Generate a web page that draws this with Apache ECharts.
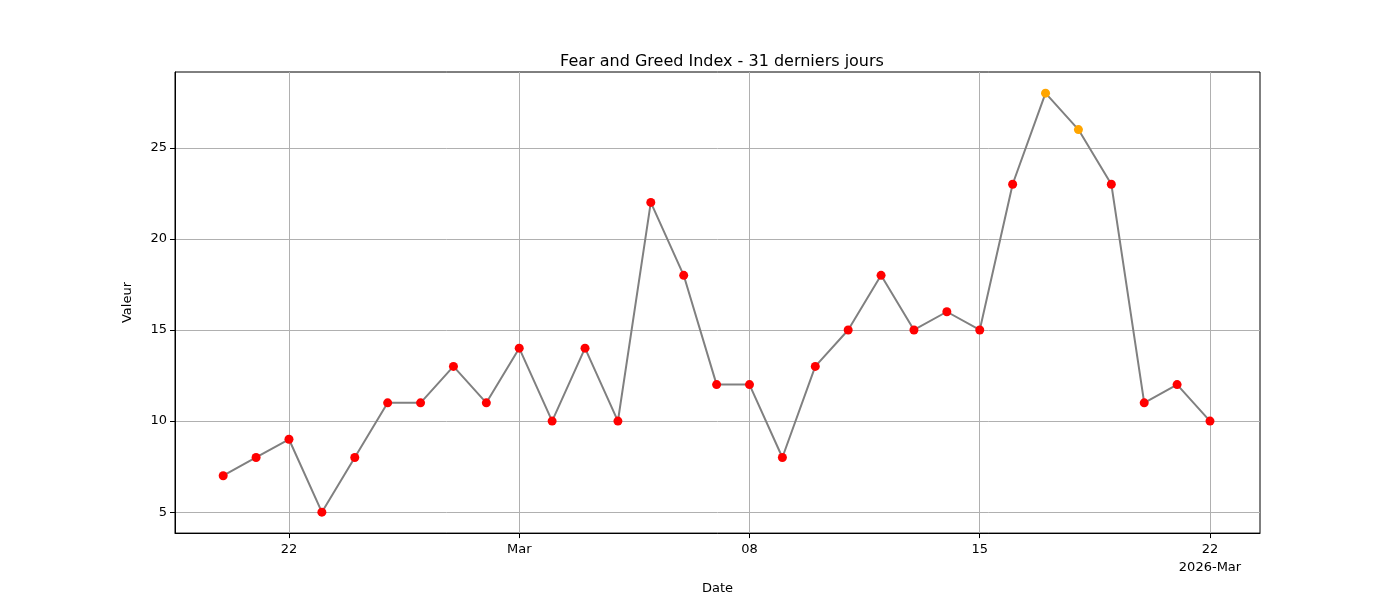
<!DOCTYPE html>
<html><head><meta charset="utf-8">
<script src="https://cdn.jsdelivr.net/npm/echarts@6/dist/echarts.min.js"></script>
<style>html,body{margin:0;padding:0;background:#fff}#c{width:1400px;height:600px}</style>
</head><body><div id="c"></div>
<script>
const dates = ['02-20','02-21','02-22','02-23','02-24','02-25','02-26','02-27','02-28','03-01','03-02','03-03','03-04','03-05','03-06','03-07','03-08','03-09','03-10','03-11','03-12','03-13','03-14','03-15','03-16','03-17','03-18','03-19','03-20','03-21','03-22'];
const values = [7,8,9,5,8,11,11,13,11,14,10,14,10,22,18,12,12,8,13,15,18,15,16,15,23,28,26,23,11,12,10];
const tickIdx = [2,9,16,23,30];
const tickLabels = ['22','Mar','08','15','22\n2026-Mar'];
const yTicks = [5,10,15,20,25];
const font = 'DejaVu Sans';
const pts = values.map((v,i)=>[i,v]);
const chart = echarts.init(document.getElementById('c'));
chart.setOption({
  animation:false,
  title:{text:'Fear and Greed Index - 31 derniers jours',left:717,top:49,textAlign:'center',textStyle:{fontFamily:font,fontSize:16,fontWeight:'normal',color:'#000'}},
  grid:{left:175,right:140,top:72,bottom:66,show:true,borderColor:'#000',borderWidth:1},
  xAxis:{type:'value',min:-1.465,max:31.52,name:'Date',nameLocation:'middle',nameGap:35,
    nameTextStyle:{fontFamily:font,fontSize:13,color:'#000'},
    axisLine:{onZero:false,lineStyle:{color:'#000'}},
    axisTick:{customValues:tickIdx,length:5,lineStyle:{color:'#000'}},
    axisLabel:{customValues:tickIdx,formatter:v=>tickLabels[tickIdx.indexOf(v)],fontFamily:font,fontSize:13,color:'#000',margin:8,lineHeight:18,align:'center'},
    splitLine:{show:true,customValues:tickIdx,lineStyle:{color:'#b0b0b0',width:1}}},
  yAxis:{type:'value',min:3.85,max:29.16,name:'Valeur',nameLocation:'middle',nameGap:41,
    nameTextStyle:{fontFamily:font,fontSize:13,color:'#000'},
    axisLine:{show:true,onZero:false,lineStyle:{color:'#000'}},
    axisTick:{show:true,customValues:yTicks,length:5,lineStyle:{color:'#000'}},
    axisLabel:{customValues:yTicks,fontFamily:font,fontSize:13,color:'#000',margin:8},
    splitLine:{show:true,customValues:yTicks,lineStyle:{color:'#b0b0b0',width:1}}},
  series:[
    {type:'line',data:pts,symbol:'none',lineStyle:{color:'#808080',width:2},z:2},
    {type:'scatter',data:pts,symbolSize:9,itemStyle:{color:p=>p.value[1]>=25?'#ffa500':'#ff0000',opacity:1},z:3}
  ]
});
</script></body></html>
